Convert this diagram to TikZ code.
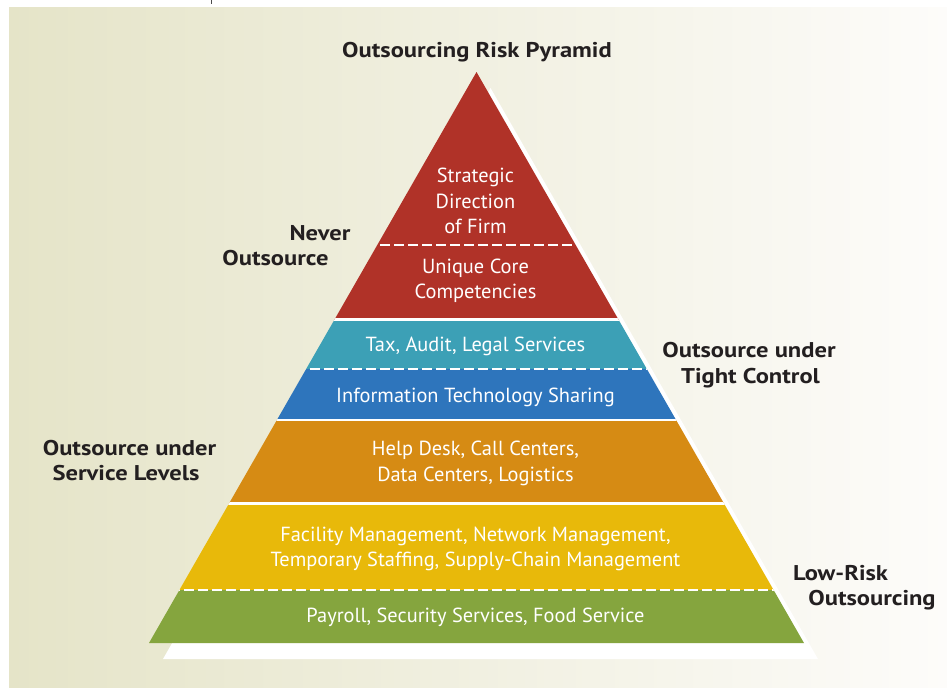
\documentclass[tikz,border=0pt]{standalone}
\usepackage{fontspec}
\setmainfont{PT Sans}
\newfontfamily\lblfont{PT Sans}[FakeStretch=1.15]
\definecolor{bgl}{RGB}{229,228,200}
\definecolor{bgr}{RGB}{253,252,250}
\definecolor{redc}{RGB}{176,50,40}
\definecolor{tealc}{RGB}{60,160,182}
\definecolor{bluec}{RGB}{46,117,188}
\definecolor{orangec}{RGB}{214,139,20}
\definecolor{yellowc}{RGB}{232,185,10}
\definecolor{greenc}{RGB}{133,165,62}
\definecolor{labelc}{RGB}{35,31,32}
\begin{document}
\begin{tikzpicture}[x=0.75pt,y=-0.75pt,
  band/.style={text=white, font=\fontsize{15.3}{19}\selectfont, anchor=base, inner sep=0pt},
  lbl/.style={text=labelc, font=\lblfont\bfseries\fontsize{16}{19}\selectfont, anchor=base, inner sep=0pt},
  sepline/.style={white, line width=2pt},
  dshline/.style={white, line width=1.2pt, dash pattern=on 7.5pt off 3pt}]
\useasboundingbox (0,0) rectangle (947,687);
\fill[white] (0,0) rectangle (947,687);
\shade[left color=bgl, right color=bgr] (9,7) rectangle (947,687);
\draw[black!70, line width=0.6pt] (211,0) -- (211,4);
% shadow
\fill[white] (490.5,88) -- (163,659) -- (818,659) -- cycle;
\begin{scope}
\clip (476.5,72) -- (149,643) -- (804,643) -- cycle;
\fill[redc] (100,60) rectangle (850,320);
\fill[tealc] (100,320) rectangle (850,369);
\fill[bluec] (100,369) rectangle (850,420);
\fill[orangec] (100,420) rectangle (850,503.5);
\fill[yellowc] (100,503.5) rectangle (850,590);
\fill[greenc] (100,590) rectangle (850,650);
\draw[sepline] (100,319.5) -- (850,319.5);
\draw[sepline] (100,420) -- (850,420);
\draw[sepline] (100,503.5) -- (850,503.5);
\draw[dshline] (100,245) -- (850,245);
\draw[dshline] (100,369) -- (850,369);
\draw[dshline] (100,590) -- (850,590);
\end{scope}
% band texts
\node[band] (s1) at (475.5,182) {Strategic};
\node[band] (s2) at (475.5,208) {Direction};
\node[band] (s3) at (475.5,233.5) {of Firm};
\node[band] (u1) at (475.5,273) {Unique Core};
\node[band] (u2) at (475.5,298) {Competencies};
\node[band] (t1) at (475.5,351) {Tax, Audit, Legal Services};
\node[band] (i1) at (475.5,402) {Information Technology Sharing};
\node[band] (h1) at (475.5,455) {Help Desk, Call Centers,};
\node[band] (h2) at (475.5,481) {Data Centers, Logistics};
\node[band] (f1) at (475.5,541) {Facility Management, Network Management,};
\node[band] (f2) at (475.5,566) {Temporary Staffing, Supply-Chain Management};
\node[band] (p1) at (475.5,622.5) {Payroll, Security Services, Food Service};
% labels
\node[lbl] (title) at (477,57.3) {Outsourcing Risk Pyramid};
\node[lbl] (n1) at (320,240.7) {Never};
\node[lbl] (n2) at (275.5,265) {Outsource};
\node[lbl] (tc1) at (749,357) {Outsource under};
\node[lbl] (tc2) at (750.5,383) {Tight Control};
\node[lbl] (sl1) at (129.5,455) {Outsource under};
\node[lbl] (sl2) at (126,480.7) {Service Levels};
\node[lbl] (lr1) at (840.5,580.7) {Low-Risk};
\node[lbl] (lr2) at (872,605) {Outsourcing};
\end{tikzpicture}
\end{document}
